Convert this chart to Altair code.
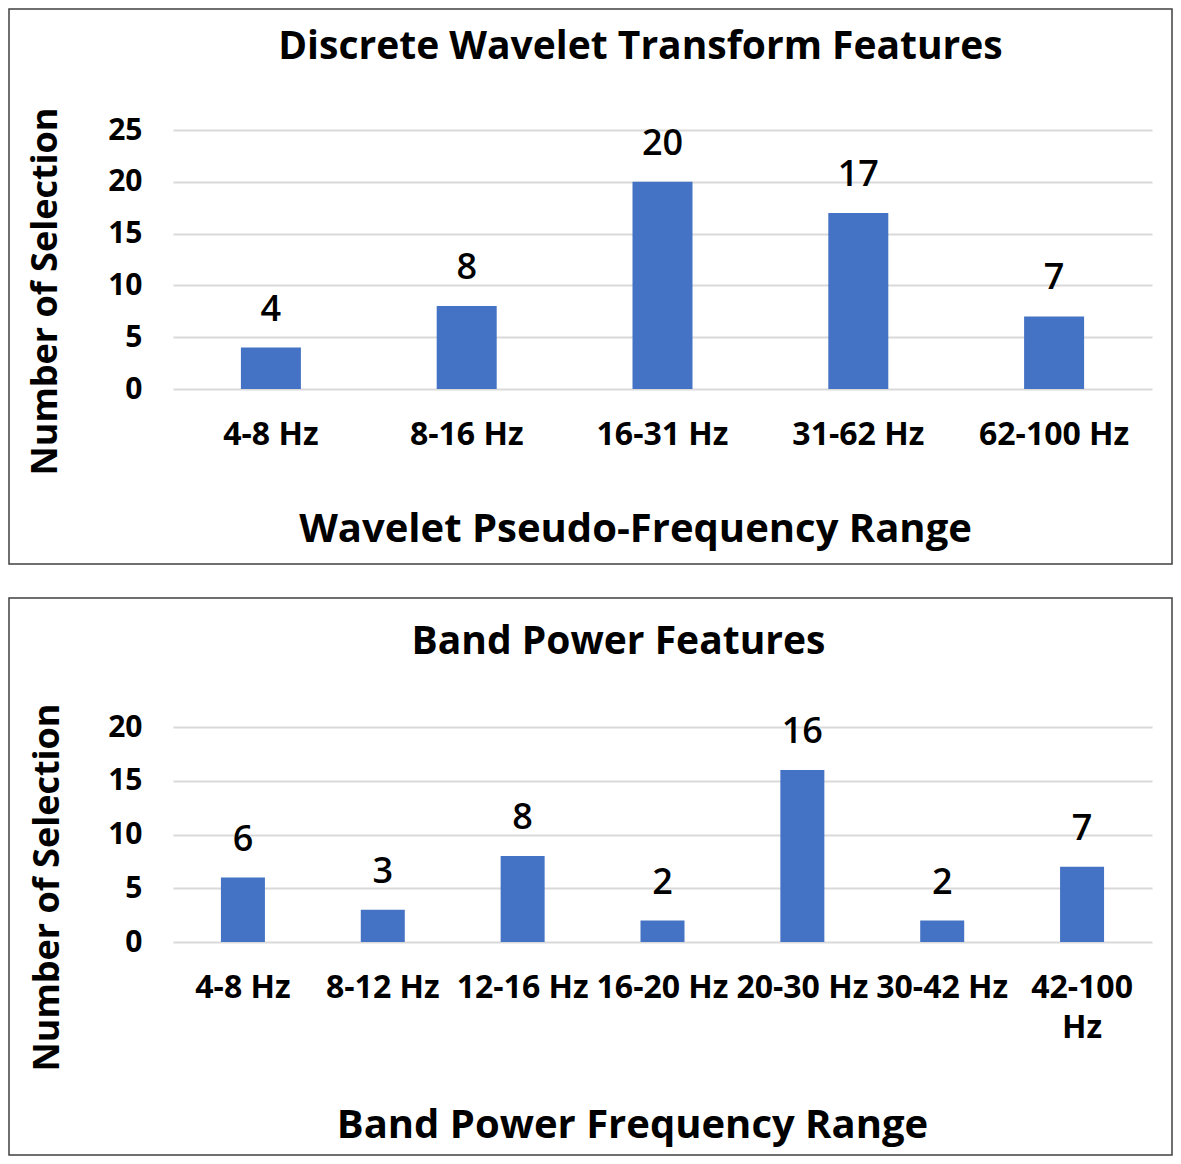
import altair as alt
import pandas as pd

FONT = "Open Sans"
BLUE = "#4472C4"

dwt_ranges = ["4-8 Hz", "8-16 Hz", "16-31 Hz", "31-62 Hz", "62-100 Hz"]
dwt_counts = [4, 8, 20, 17, 7]

bp_ranges = ["4-8 Hz", "8-12 Hz", "12-16 Hz", "16-20 Hz", "20-30 Hz", "30-42 Hz", "42-100 Hz"]
bp_counts = [6, 3, 8, 2, 16, 2, 7]

W = 979


def panel(ranges, counts, ymax, height, title, xtitle, title_dx, title_off,
          ytitle_y, ytitle_x, xtitle_x, xtitle_y, bar_size, rect_box, wrap):
    df = pd.DataFrame({"range": ranges, "count": counts})
    label_expr = ("length(datum.label) > 8 ? split(datum.label, ' ') : datum.label"
                  if wrap else "datum.label")
    x = alt.X("range:N", sort=ranges, title=xtitle,
              scale=alt.Scale(paddingInner=0.69, paddingOuter=0.345),
              axis=alt.Axis(labelAngle=0, labelFont=FONT, labelFontSize=32, labelFontWeight="bold",
                            labelColor="#000", labelPadding=30, ticks=False, domain=False,
                            labelLineHeight=40, labelExpr=label_expr,
                            titleFont=FONT, titleFontSize=40, titleFontWeight="bold", titleColor="#000",
                            titleX=xtitle_x, titleY=xtitle_y, titleBaseline="middle", titleAlign="center",
                            labelOverlap=False, labelBound=False))
    y = alt.Y("count:Q", title="Number of Selection",
              scale=alt.Scale(domain=[0, ymax], nice=False),
              axis=alt.Axis(values=list(range(0, ymax + 1, 5)), labelFont=FONT, labelFontSize=30,
                            labelFontWeight="bold", labelColor="#000", labelPadding=31, ticks=False,
                            domain=False, gridColor="#D9D9D9", gridWidth=2,
                            titleFont=FONT, titleFontSize=36, titleFontWeight="bold", titleColor="#000",
                            titleX=ytitle_x, titleY=ytitle_y, titleBaseline="middle", titleAlign="center",
                            titleAngle=-90))
    base = alt.Chart(df)
    bars = base.mark_bar(color=BLUE, size=bar_size).encode(x=x, y=y)
    labels = base.mark_text(font=FONT, fontSize=36, fontWeight=600, color="#000",
                            baseline="alphabetic", dy=-27).encode(
        x=alt.X("range:N", sort=ranges), y="count:Q", text="count:Q")
    x0, x1, y0, y1 = rect_box
    border = alt.Chart(alt.Data(values=[{"b": 1}])).mark_rect(
        filled=False, stroke="#404040", strokeWidth=1.5).encode(
        x=alt.value(x0), x2=alt.value(x1), y=alt.value(y0), y2=alt.value(y1))
    return alt.layer(border, bars, labels).properties(
        width=W, height=height,
        title=alt.TitleParams(title, font=FONT, fontSize=39, fontWeight="bold", color="#000",
                              anchor="middle", frame="group", offset=title_off, dx=title_dx))


top = panel(dwt_ranges, dwt_counts, 25, 259, "Discrete Wavelet Transform Features",
            "Wavelet Pseudo-Frequency Range", -22, -59,
            161, -128, 462, 140, 60, (-164, 999, -121, 434), False)
bottom = panel(bp_ranges, bp_counts, 20, 215, "Band Power Features",
               "Band Power Frequency Range", -44, -65,
               160, -126, 459, 183, 44, (-164, 999, -129, 428), True)

chart = alt.vconcat(top, bottom, spacing=32).properties(padding=0).configure_view(stroke=None)

chart.save("out.html", embed_options={"renderer": "svg", "actions": False})
